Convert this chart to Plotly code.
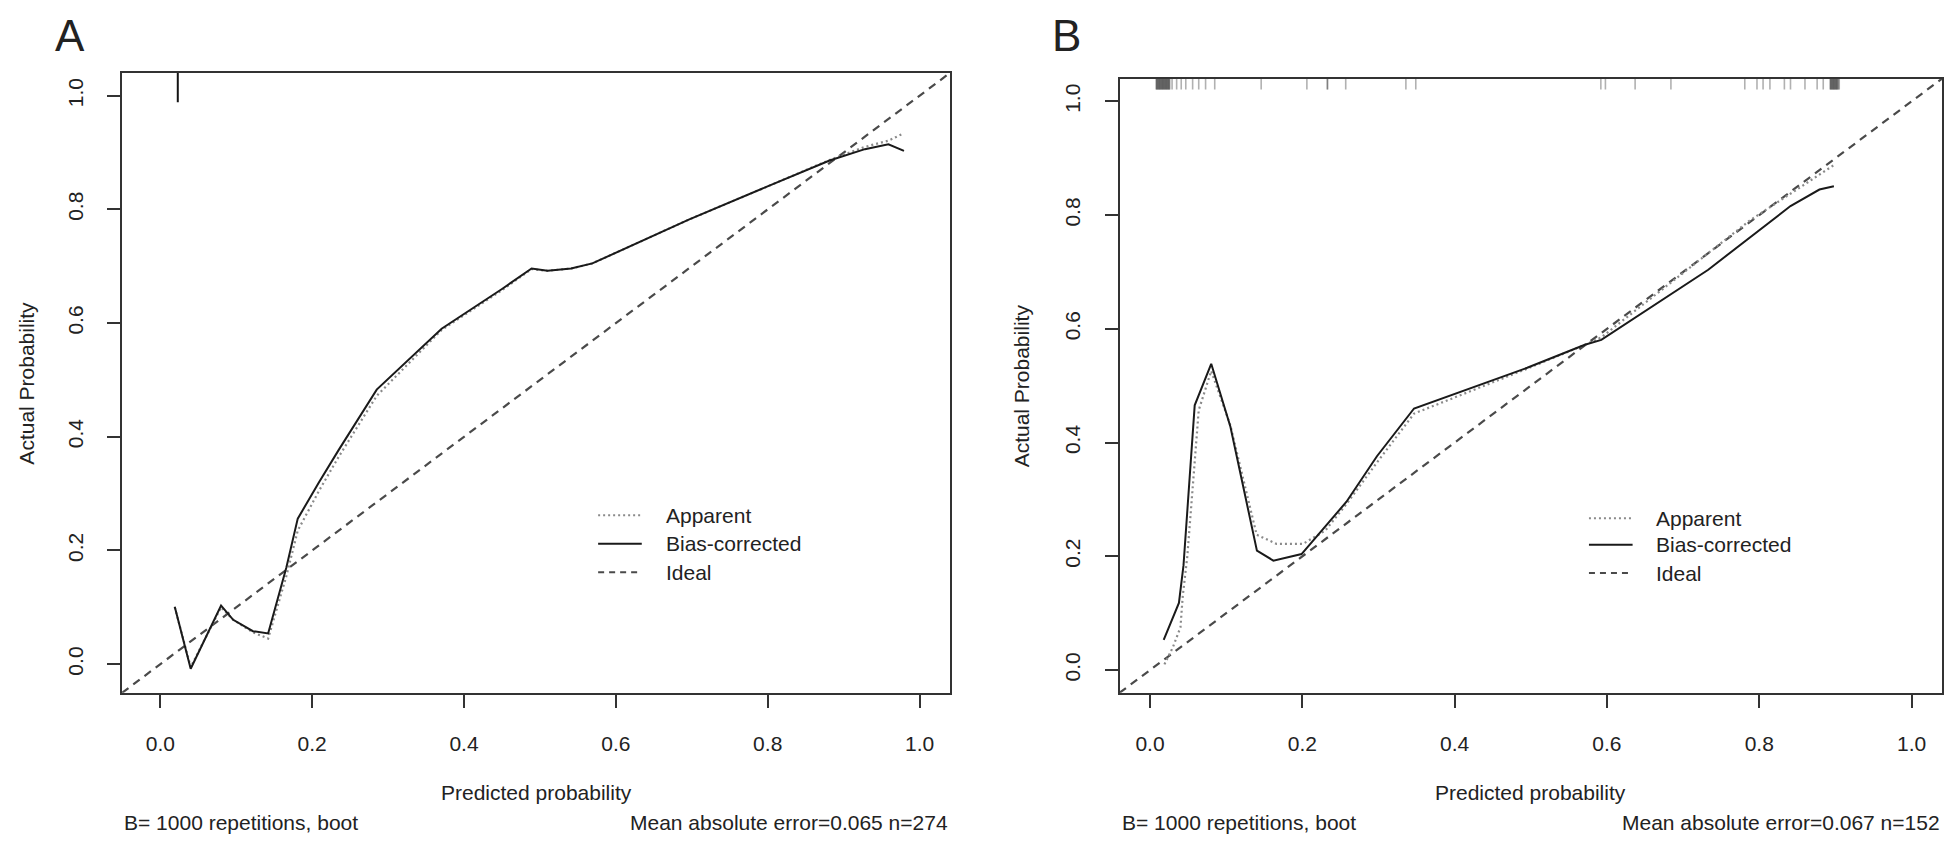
import plotly.graph_objects as go

# ---------------- data ----------------
# Panel A
a_pred = [0.019, 0.040, 0.080, 0.096, 0.122, 0.142, 0.166, 0.181, 0.209, 0.235, 0.285,
          0.3705, 0.45, 0.489, 0.510, 0.541, 0.569, 0.696, 0.799, 0.8815, 0.928, 0.959, 0.9795]
a_bias = [0.101, -0.008, 0.103, 0.078, 0.058, 0.054, 0.170, 0.256, 0.320, 0.377, 0.483,
          0.590, 0.660, 0.696, 0.692, 0.696, 0.705, 0.782, 0.840, 0.886, 0.906, 0.9145, 0.903]
a_app = [0.100, -0.005, 0.100, 0.078, 0.056, 0.045, 0.155, 0.235, 0.305, 0.365, 0.472,
         0.588, 0.658, 0.695, 0.692, 0.696, 0.705, 0.782, 0.840, 0.887, 0.910, 0.921, 0.934]
a_rug = [0.023]

# Panel B
b_bias_x = [0.018, 0.038, 0.044, 0.0587, 0.0804, 0.1056, 0.1404, 0.162, 0.199, 0.258, 0.298,
            0.3467, 0.4953, 0.571, 0.5926, 0.733, 0.841, 0.879, 0.898]
b_bias_y = [0.053, 0.118, 0.184, 0.4655, 0.5385, 0.428, 0.210, 0.1925, 0.204, 0.296, 0.376,
            0.460, 0.5316, 0.572, 0.5805, 0.704, 0.816, 0.845, 0.8506]
b_app_x = [0.019, 0.030, 0.040, 0.043, 0.049, 0.064, 0.0804, 0.1056, 0.140, 0.166, 0.201,
           0.230, 0.258, 0.298, 0.3467, 0.4953, 0.571, 0.5926, 0.787, 0.898]
b_app_y = [0.010, 0.040, 0.075, 0.130, 0.200, 0.457, 0.526, 0.430, 0.238, 0.222, 0.222,
           0.245, 0.292, 0.365, 0.451, 0.530, 0.572, 0.585, 0.790, 0.888]
b_rug = [0.008, 0.009, 0.010, 0.011, 0.012, 0.013, 0.014, 0.015, 0.016, 0.017, 0.018,
         0.019, 0.020, 0.021, 0.022, 0.023, 0.024, 0.025, 0.026,
         0.009, 0.011, 0.013, 0.015, 0.017, 0.019, 0.021, 0.023, 0.025,
         0.029, 0.035, 0.041, 0.047, 0.056, 0.064, 0.073, 0.085, 0.146, 0.206, 0.233,
         0.233, 0.257, 0.336, 0.349, 0.592, 0.598, 0.637, 0.684, 0.781, 0.797, 0.805, 0.814,
         0.833, 0.841, 0.860, 0.876, 0.884,
         0.893, 0.894, 0.895, 0.896, 0.897, 0.898, 0.899, 0.900, 0.901, 0.902, 0.903,
         0.904, 0.905, 0.894, 0.896, 0.898, 0.900, 0.902]

tick_vals = [0.0, 0.2, 0.4, 0.6, 0.8, 1.0]
tick_text = ["0.0", "0.2", "0.4", "0.6", "0.8", "1.0"]

a_range = [-0.0504, 1.0404]
b_range = [-0.04, 1.04]

legend_labels = ["Apparent", "Bias-corrected", "Ideal"]
x_title = "Predicted probability"
y_title = "Actual Probability"
note_left = "B= 1000 repetitions, boot"
note_right_a = "Mean absolute error=0.065 n=274"
note_right_b = "Mean absolute error=0.067 n=152"

# ---------------- styling ----------------
W, H = 1955, 847
FONT = "Liberation Sans, Arial, sans-serif"
TXT = "#222222"
AX = "#333333"
BIAS_C = "#1a1a1a"
APP_C = "#8a8a8a"
IDEAL_C = "#4a4a4a"
APP_DASH = "2px,3px"
IDEAL_DASH = "8px,6px"


def px(x):
    return x / W


def py(y):
    return 1 - y / H


fig = go.Figure()


def rug_xy(vals, top, length):
    xs, ys = [], []
    for v in vals:
        xs += [v, v, None]
        ys += [top, top - length, None]
    return xs, ys


def add_panel(xa, ya, rng, bx, by, apx, apy, rug_vals, rug_len, rug_col, rug_w):
    # ideal
    fig.add_trace(go.Scatter(x=rng, y=rng, mode="lines", xaxis=xa, yaxis=ya,
                             line=dict(color=IDEAL_C, width=2.2, dash=IDEAL_DASH),
                             name="Ideal", showlegend=False, hoverinfo="skip"))
    # apparent
    fig.add_trace(go.Scatter(x=apx, y=apy, mode="lines", xaxis=xa, yaxis=ya,
                             line=dict(color=APP_C, width=2.2, dash=APP_DASH),
                             name="Apparent", showlegend=False))
    # bias corrected
    fig.add_trace(go.Scatter(x=bx, y=by, mode="lines", xaxis=xa, yaxis=ya,
                             line=dict(color=BIAS_C, width=2),
                             name="Bias-corrected", showlegend=False))
    # rug
    rx, ry = rug_xy(rug_vals, rng[1], rug_len)
    fig.add_trace(go.Scatter(x=rx, y=ry, mode="lines", xaxis=xa, yaxis=ya,
                             line=dict(color=rug_col, width=rug_w),
                             showlegend=False, hoverinfo="skip"))


add_panel("x", "y", a_range, a_pred, a_bias, a_pred, a_app,
          a_rug, 30 / 580, "rgba(20,20,20,1)", 2)
add_panel("x2", "y2", b_range, b_bias_x, b_bias_y, b_app_x, b_app_y,
          b_rug, 11 / 580, "rgba(50,50,50,0.38)", 1.6)

axis_common = dict(
    tickvals=tick_vals, ticktext=tick_text, ticks="outside", ticklen=13, tickwidth=2,
    tickcolor=AX, showline=True, linecolor=AX, linewidth=2, mirror=True,
    showgrid=False, zeroline=False, tickfont=dict(family=FONT, size=21, color=TXT),
    fixedrange=True,
)

fig.update_layout(
    xaxis=dict(domain=[px(115), px(950)], range=a_range, anchor="y",
               ticklabelstandoff=18, **axis_common),
    yaxis=dict(domain=[py(698), py(66)], range=a_range, anchor="x",
               tickangle=-90, ticklabelstandoff=16, **axis_common),
    xaxis2=dict(domain=[px(1120.7), px(1950)], range=b_range, anchor="y2",
                ticklabelstandoff=18, **axis_common),
    yaxis2=dict(domain=[py(698), py(72)], range=b_range, anchor="x2",
                tickangle=-90, ticklabelstandoff=16, **axis_common),
    margin=dict(l=0, r=0, t=0, b=0),
    paper_bgcolor="white",
    plot_bgcolor="white",
    showlegend=False,
    font=dict(family=FONT, color=TXT),
)

ann = []
shapes = []


def text(x, y, s, size=21, xanchor="center", angle=0, yanchor="middle"):
    ann.append(dict(x=px(x), y=py(y), xref="paper", yref="paper", text=s, showarrow=False,
                    xanchor=xanchor, yanchor=yanchor, textangle=angle,
                    font=dict(family=FONT, size=size, color=TXT)))


# panel letters
text(45, 1, "A", size=44, xanchor="left", yanchor="top")
text(1051, 1, "B", size=44, xanchor="left", yanchor="top")

# axis titles
text(19, 382, y_title, angle=-90)
text(1022, 385, y_title, angle=-90)
text((115 + 950) / 2, 800, x_title)
text((1120.7 + 1950) / 2, 800, x_title)

# bottom notes
text(115, 830, note_left, xanchor="left")
text(950, 830, note_right_a, xanchor="right")
text(1120.7, 830, note_left, xanchor="left")
text(1950, 830, note_right_b, xanchor="right")

# legends
styles = [dict(color=APP_C, width=2, dash=APP_DASH),
          dict(color=BIAS_C, width=2),
          dict(color=IDEAL_C, width=2, dash="6px,5px")]
for (lx0, lx1, tx, rows) in [(595, 639, 661, [517, 546, 575]),
                             (1594, 1638, 1660, [520, 547, 576])]:
    for lab, st, ry in zip(legend_labels, styles, rows):
        shapes.append(dict(type="line", xref="paper", yref="paper",
                           x0=px(lx0), x1=px(lx1), y0=py(ry), y1=py(ry), line=st))
        text(tx, ry, lab, xanchor="left")

fig.update_layout(annotations=ann, shapes=shapes)

fig.write_html("out.html", config={"displayModeBar": False})
